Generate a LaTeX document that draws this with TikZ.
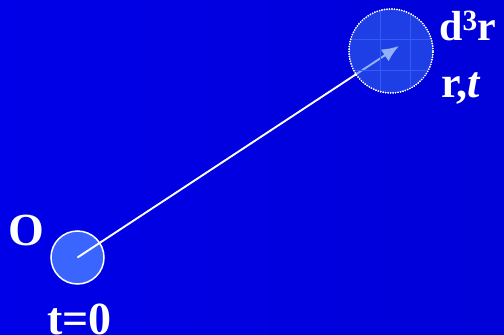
\documentclass[tikz,border=0pt]{standalone}
\usepackage{fontspec}
\setmainfont{Liberation Serif}
\usepackage{xcolor}
\usetikzlibrary{arrows.meta}

\definecolor{bgleft}{RGB}{0,0,232}
\definecolor{bgright}{RGB}{0,0,216}
\definecolor{origblue}{RGB}{58,102,255}
\definecolor{volblue}{RGB}{56,115,238}
\definecolor{gridblue}{RGB}{52,92,244}

\begin{document}
\begin{tikzpicture}[x=1pt, y=-1pt]
        % Define styles for the two regions and the labels
        \tikzstyle{origin} = [circle, draw=white, line width=1.5pt, fill=origblue, minimum size=53pt, inner sep=0pt]
        \tikzstyle{volume} = [circle, draw=white, line width=1.7pt, dash pattern=on 0pt off 2.5pt, line cap=round,
                              fill=volblue, fill opacity=0.55, draw opacity=1, minimum size=84pt, inner sep=0pt]
        \tikzstyle{lbl} = [text=white, inner sep=0pt, anchor=base west, font=\bfseries]
        \tikzstyle{arrow} = [white, line width=1.9pt, -{Latex[length=17pt, width=14pt]}]

        % Background
        \shade[left color=bgleft, right color=bgright] (0,0) rectangle (504,335);

        % Region at t=0 and the displacement
        \node (orig) [origin] at (77.5,257.5) {};
        \coordinate (tip) at (399,46);
        \draw [arrow] (orig.center) -- (tip);

        % Volume element d3r around r
        \node (vol) [volume] at (391,51) {};
        \begin{scope}
            \clip (vol.center) circle (41pt);
            \foreach \gx in {380,410} \draw [gridblue, line width=0.6pt] (\gx,0) -- (\gx,100);
            \foreach \gy in {39,70} \draw [gridblue, line width=0.6pt] (340,\gy) -- (440,\gy);
        \end{scope}
        \node [volume, fill=none] at (vol.center) {};

        % Labels
        \node (olbl) [lbl, font=\bfseries\fontsize{46}{46}\selectfont] at (8,245) {O};
        \node (tzero) [lbl, font=\bfseries\fontsize{46}{46}\selectfont] at (47,334) {t=0};
        \node (dvol) [lbl, font=\bfseries\fontsize{42}{42}\selectfont] at (439,40) {d\textsuperscript{3}r};
        \node (rt) [lbl, font=\bfseries\fontsize{44}{44}\selectfont] at (441,97) {r,\textit{t}};
\end{tikzpicture}
\end{document}
